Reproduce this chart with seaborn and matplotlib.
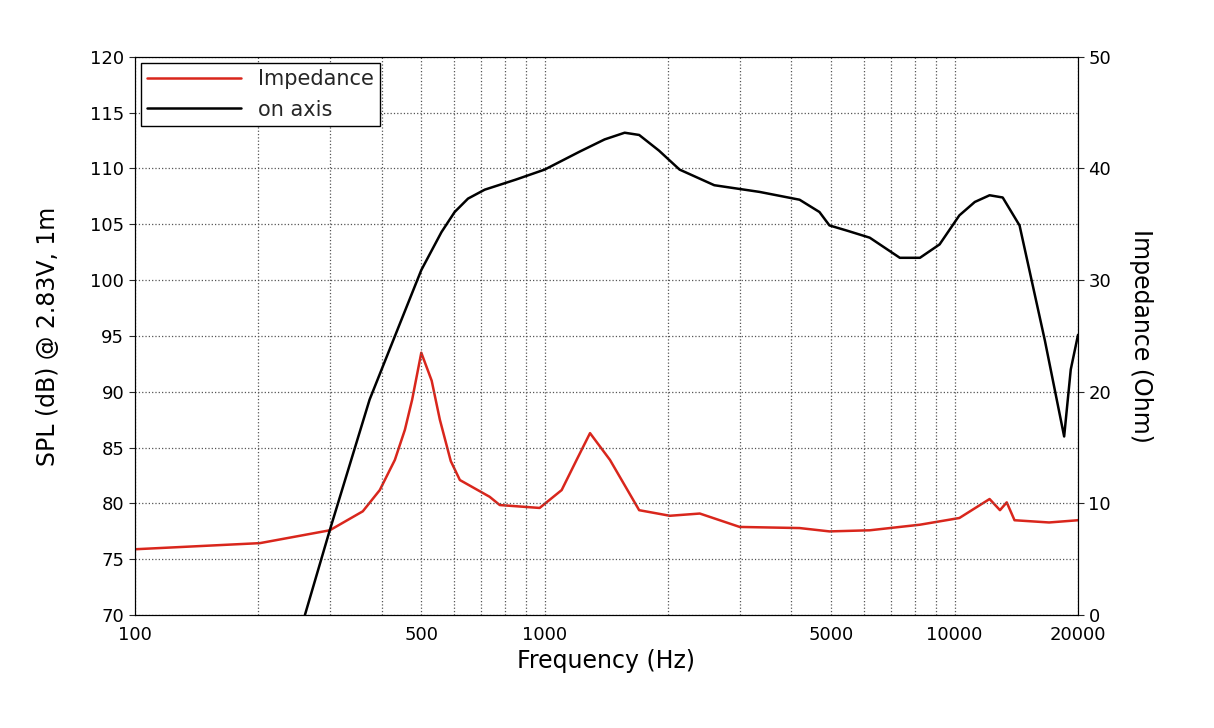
import numpy as np
import pandas as pd
import matplotlib
matplotlib.use("Agg")
from matplotlib import pyplot as plt
from matplotlib.ticker import FixedLocator, NullFormatter
from matplotlib.lines import Line2D
import seaborn as sns

sns.set_style("white")

# On-axis SPL (dB)
spl_freq = [260, 299, 374, 440, 500, 560, 603, 650, 714, 850, 1000, 1216, 1400, 1567, 1700, 1900, 2133, 2592, 3343, 4186,
            4680, 4950, 5500, 6209, 7350, 8230, 9190, 10270, 11200, 12170, 13100, 14400, 16600, 18500, 19200, 20000]
spl_db = [70.0, 77.6, 89.3, 95.8, 100.9, 104.3, 106.1, 107.3, 108.1, 109.0, 109.9, 111.5, 112.6, 113.2, 113.0, 111.6, 109.9, 108.5, 107.9, 107.2,
          106.1, 104.9, 104.4, 103.8, 102.0, 102.0, 103.2, 105.8, 107.0, 107.6, 107.4, 104.9, 94.6, 86.0, 92.0, 95.1]

# Impedance (Ohm)
imp_freq = [100, 202, 299, 360, 396, 431, 456, 475, 500, 530, 555, 590, 621, 734, 777, 972, 1100, 1200, 1290, 1443, 1700, 2020,
            2390, 2990, 4186, 4950, 6209, 8230, 10270, 12170, 12900, 13400, 14000, 17000, 20000]
imp_ohm = [5.9, 6.45, 7.6, 9.3, 11.2, 13.9, 16.6, 19.3, 23.5, 21.0, 17.5, 13.8, 12.1, 10.6, 9.86, 9.6, 11.2, 14.0, 16.3, 13.9, 9.4, 8.9,
           9.1, 7.9, 7.8, 7.5, 7.6, 8.1, 8.7, 10.4, 9.4, 10.1, 8.5, 8.3, 8.5]

x_ticks = [100, 500, 1000, 5000, 10000, 20000]
x_labels = ["100", "500", "1000", "5000", "10000", "20000"]

fig = plt.figure(figsize=(12.14, 7.28), dpi=100)
ax = fig.add_axes([0.111, 0.155, 0.777, 0.767])
ax2 = ax.twinx()

spl = pd.DataFrame({"f": spl_freq, "v": spl_db})
imp = pd.DataFrame({"f": imp_freq, "v": imp_ohm})
sns.lineplot(data=imp, x="f", y="v", ax=ax2, color="#d9261c", lw=1.8)
sns.lineplot(data=spl, x="f", y="v", ax=ax, color="black", lw=1.8)

ax.set_xscale("log")
ax.set_xlim(100, 20000)
ax.set_ylim(70, 120)
ax2.set_ylim(0, 50)
ax.set_yticks(range(70, 121, 5))
ax2.set_yticks(range(0, 51, 10))
ax.xaxis.set_major_locator(FixedLocator(x_ticks))
ax.set_xticklabels(x_labels)
minors = [m * d for d in (100, 1000, 10000) for m in range(2, 10) if m * d < 20000]
ax.xaxis.set_minor_locator(FixedLocator(minors))
ax.xaxis.set_minor_formatter(NullFormatter())

ax.grid(True, which="both", axis="x", ls=":", color="#555555", lw=0.9)
ax.grid(True, which="major", axis="y", ls=":", color="#555555", lw=0.9)
for a in (ax, ax2):
    a.tick_params(labelsize=13, direction="out", length=4, labelcolor="black")
    for s in a.spines.values():
        s.set_color("black")
ax.set_xlabel("Frequency (Hz)", fontsize=17, color="black")
ax.set_ylabel("SPL (dB) @ 2.83V, 1m", fontsize=17, labelpad=22, color="black")
ax2.set_ylabel("Impedance (Ohm)", fontsize=17, rotation=270, labelpad=30, color="black")

handles = [Line2D([], [], color="#d9261c", lw=1.8), Line2D([], [], color="black", lw=1.8)]
leg = ax.legend(handles, ["Impedance", "on axis"], loc="upper left", fontsize=15,
                frameon=True, fancybox=False, edgecolor="black", borderaxespad=0.3,
                handlelength=4.5, borderpad=0.3)
leg.get_frame().set_alpha(1)
ax2.set_zorder(1)
ax.set_zorder(2)
ax.patch.set_visible(False)

fig.savefig("out.png", dpi=100)
